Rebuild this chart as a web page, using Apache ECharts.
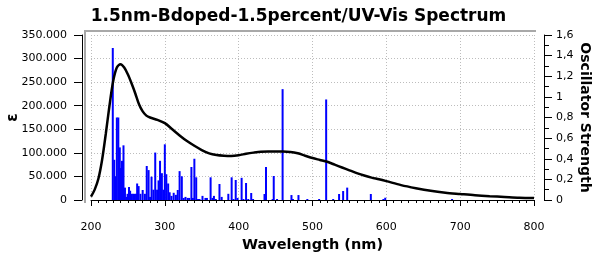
<!DOCTYPE html>
<html>
<head>
<meta charset="utf-8">
<script src="https://cdn.jsdelivr.net/npm/echarts@6/dist/echarts.min.js"></script>
<style>html,body{margin:0;padding:0;background:#fff}#c{width:597px;height:256px}</style>
</head>
<body>
<div id="c"></div>
<script>
// ---- data ----
var titleText = '1.5nm-Bdoped-1.5percent/UV-Vis Spectrum';
var xName = 'Wavelength (nm)';
var leftName = 'ε';
var rightName = 'Oscillator Strength';
var xTicks = [200, 300, 400, 500, 600, 700, 800];
var leftTicks = [0, 50000, 100000, 150000, 200000, 250000, 300000, 350000];
var rightTicks = ['0', '0,2', '0,4', '0,6', '0,8', '1', '1,2', '1,4', '1,6'];

var curveNm = [200,205,210,215,220,225,230,235,240,245,250,255,260,265,270,275,280,290,300,310,320,330,340,350,360,370,380,390,400,410,420,430,440,450,460,470,480,490,500,510,520,530,540,550,560,570,580,590,600,620,640,660,680,700,720,740,760,780,800];
var curveEps = [7000,22000,45000,85000,140000,200000,252000,281000,288000,281000,266000,247000,226000,203000,188000,179000,175000,170000,163000,150000,137000,125000,115000,106000,99000,95500,94000,93500,95000,98000,100500,102500,103000,103000,103000,102000,99000,94000,89000,85000,81000,75000,69000,63000,57000,52000,47500,44000,40000,31500,25000,19500,15500,12700,10000,8000,6500,5000,4500];

var barNm = [229.5,231.5,233,235,237,239,240.5,242,244,246,248,249.5,251.5,253,255,257,259,261,262.5,264.5,267,270,273,275.5,278,280,282,284.5,287,289.5,291.5,293.5,296,298,300,302,304.5,306.5,309,312,315,317.5,320,323,325.5,328,331,333,336,338,340,342.5,345,347,351,355,357,362,364.5,366.5,369,374,377,386,390.5,393,396,398.5,404,406.5,410,413,417,419.5,435,437,446,447.5,452,459.5,471.5,473.5,481,493,509,518.5,528,536,541.5,547,579,596,598.5,689];
var barF = [1.474,0.39,0.23,0.80,0.80,0.51,0.31,0.38,0.53,0.12,0.03,0.06,0.126,0.09,0.06,0.06,0.06,0.06,0.16,0.135,0.06,0.097,0.06,0.33,0.29,0.03,0.226,0.1,0.46,0.1,0.19,0.38,0.26,0.1,0.54,0.25,0.16,0.075,0.04,0.07,0.05,0.097,0.28,0.23,0.02,0.03,0.02,0.02,0.32,0.02,0.40,0.22,0.01,0.01,0.04,0.02,0.02,0.22,0.02,0.04,0.01,0.155,0.03,0.06,0.22,0.01,0.194,0.02,0.215,0.01,0.165,0.01,0.068,0.01,0.058,0.32,0.01,0.233,0.01,1.075,0.048,0.01,0.048,0.01,0.01,0.975,0.01,0.058,0.087,0.12,0.058,0.01,0.022,0.01];

// ---- chart ----
var font = 'DejaVu Sans';
var chart = echarts.init(document.getElementById('c'), null, {renderer: 'canvas'});
function fmtLeft(v) {
  if (v === 0) return '0';
  var s = String(Math.round(v));
  return s.replace(/\B(?=(\d{3})+(?!\d))/g, '.');
}
chart.setOption({
  animation: false,
  backgroundColor: '#fff',
  title: {
    text: titleText, left: 'center', top: 3,
    textStyle: {fontFamily: font, fontWeight: 'bold', fontSize: 17, color: '#000'}
  },
  grid: {left: 91, right: 63, top: 35, bottom: 56, containLabel: false, outerBoundsMode: 'none'},
  graphic: [
    {type: 'line', shape: {x1: 84, y1: 31, x2: 536, y2: 31}, style: {stroke: '#a8a8a8', lineWidth: 2}, z: 1},
    {type: 'line', shape: {x1: 85, y1: 30, x2: 85, y2: 203}, style: {stroke: '#a8a8a8', lineWidth: 2}, z: 1}
  ],
  xAxis: {
    type: 'value', min: xTicks[0], max: xTicks[xTicks.length - 1], interval: 100,
    offset: 10,
    name: xName, nameLocation: 'middle', nameGap: 28, nameMoveOverlap: false,
    nameTextStyle: {fontFamily: font, fontWeight: 'bold', fontSize: 14.5, color: '#000'},
    axisLine: {show: true, lineStyle: {color: '#000', width: 1}},
    axisTick: {show: true, length: 6, inside: false, lineStyle: {color: '#000'}},
    minorTick: {show: true, splitNumber: 10, length: 3, lineStyle: {color: '#000'}},
    axisLabel: {fontFamily: font, fontSize: 11, color: '#000', margin: 12},
    splitLine: {show: true, lineStyle: {color: '#bdbdbd', type: [1, 2], width: 1}}
  },
  yAxis: [
    {
      type: 'value', min: 0, max: 350000, interval: 50000, position: 'left', offset: 9,
      name: leftName, nameLocation: 'middle', nameRotate: 90, nameGap: 61, nameMoveOverlap: false,
      nameTextStyle: {fontFamily: font, fontWeight: 'bold', fontSize: 15, color: '#000'},
      axisLine: {show: true, lineStyle: {color: '#000', width: 1}},
      axisTick: {show: true, length: 8, lineStyle: {color: '#000'}},
      axisLabel: {fontFamily: font, fontSize: 11, color: '#000', margin: 15,
        formatter: function (v) { return fmtLeft(v); }},
      splitLine: {show: true, lineStyle: {color: '#bdbdbd', type: [1, 2], width: 1}}
    },
    {
      type: 'value', min: 0, max: 1.6, interval: 0.2, position: 'right', offset: 10,
      name: rightName, nameLocation: 'middle', nameRotate: -90, nameGap: 34, nameMoveOverlap: false,
      nameTextStyle: {fontFamily: font, fontWeight: 'bold', fontSize: 14, color: '#000'},
      axisLine: {show: true, lineStyle: {color: '#000', width: 1}},
      axisTick: {show: true, length: 8, lineStyle: {color: '#000'}},
      minorTick: {show: true, splitNumber: 2, length: 5, lineStyle: {color: '#000'}},
      axisLabel: {fontFamily: font, fontSize: 11, color: '#000', margin: 12,
        formatter: function (v) { return rightTicks[Math.round(v / 0.2)]; }},
      splitLine: {show: false}
    }
  ],
  series: [
    {
      type: 'bar', xAxisIndex: 0, yAxisIndex: 1, barWidth: 2, z: 2,
      itemStyle: {color: '#0000ff'},
      data: barNm.map(function (x, i) { return [x, barF[i]]; })
    },
    {
      type: 'line', xAxisIndex: 0, yAxisIndex: 0, smooth: 0.3, symbol: 'none', z: 3,
      lineStyle: {color: '#000', width: 2.5},
      data: curveNm.map(function (x, i) { return [x, curveEps[i]]; })
    }
  ]
});
</script>
</body>
</html>
